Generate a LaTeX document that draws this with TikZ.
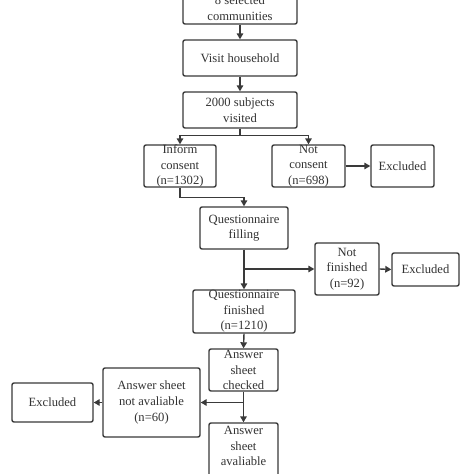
\documentclass[tikz,border=0pt]{standalone}
\usepackage{fontspec}
\setmainfont{Liberation Serif}
\usetikzlibrary{arrows.meta}
\definecolor{linec}{HTML}{3A3A3A}
\definecolor{textc}{HTML}{333333}
\tikzset{
  box/.style={draw=linec, line width=1.4pt, rounded corners=2pt, fill=white, inner sep=0pt},
  txt/.style={text=textc, font=\fontsize{12.6}{15.6}\selectfont, align=center, inner sep=0pt},
  arr/.style={draw=linec, line width=1.4pt, -{Triangle[length=6pt,width=6.5pt]}}
}
\begin{document}
\begin{tikzpicture}[x=1pt,y=-1pt]
\useasboundingbox (0,0) rectangle (474,474);
\fill[white] (0,0) rectangle (474,474);
\clip (0,0) rectangle (474,474);
% boxes
\node[box, minimum width=114pt, minimum height=60pt] (top) at (240,-6) {};
\node[txt] at (240,8) {8 selected\\communities};
\node[box, minimum width=114pt, minimum height=36pt] (vh) at (240,58) {};
\node[txt] at (vh) {Visit household};
\node[box, minimum width=114pt, minimum height=36pt] (sv) at (240,110) {};
\node[txt] at (sv) {2000 subjects\\visited};
\node[box, minimum width=72pt, minimum height=42pt] (ic) at (180,166) {};
\node[txt] at (ic) {Inform\\consent\\(n=1302)};
\node[box, minimum width=73pt, minimum height=42pt] (nc) at (308.5,166) {};
\node[txt] at (nc) {Not\\consent\\(n=698)};
\node[box, minimum width=63pt, minimum height=42pt] (ex1) at (402.5,166) {};
\node[txt] at (ex1) {Excluded};
\node[box, minimum width=88pt, minimum height=42pt] (qf) at (244,228) {};
\node[txt] at (qf) {Questionnaire\\filling};
\node[box, minimum width=64pt, minimum height=52pt] (nf) at (347,269) {};
\node[txt] at (nf) {Not\\finished\\(n=92)};
\node[box, minimum width=67pt, minimum height=33pt] (ex2) at (425.5,269.5) {};
\node[txt] at (ex2) {Excluded};
\node[box, minimum width=102pt, minimum height=43pt] (qfin) at (244,311.5) {};
\node[txt] at (qfin) {Questionnaire\\finished\\(n=1210)};
\node[box, minimum width=69pt, minimum height=42pt] (asc) at (243.5,370) {};
\node[txt] at (asc) {Answer\\sheet\\checked};
\node[box, minimum width=97pt, minimum height=69pt] (asna) at (151.5,402.5) {};
\node[txt] at (asna) {Answer sheet\\not avaliable\\(n=60)};
\node[box, minimum width=81pt, minimum height=39pt] (ex3) at (52.5,402.5) {};
\node[txt] at (ex3) {Excluded};
\node[box, minimum width=69pt, minimum height=70pt] (asa) at (243.5,458) {};
\node[txt] at (243.5,446) {Answer\\sheet\\avaliable};
% connectors
\draw[arr] (top.south) -- (vh.north);
\draw[arr] (vh.south) -- (sv.north);
\draw[arr] (sv.south) -- ++(0,7) -| (ic.north);
\draw[arr] (sv.south) -- ++(0,7) -| (nc.north);
\draw[arr] (nc.east) -- (ex1.west);
\draw[arr] (ic.south) -- ++(0,10) -| (qf.north);
\draw[arr] (qf.south) -- (qfin.north);
\draw[arr] (qf.south |- nf.west) -- (nf.west);
\draw[arr] (nf.east) -- (ex2.west);
\draw[arr] (qfin.south) -- (asc.north);
\draw[arr] (asc.south) -- (asa.north);
\draw[arr] (asc.south |- asna.east) -- (asna.east);
\draw[arr] (asna.west) -- (ex3.east);
\end{tikzpicture}
\end{document}
